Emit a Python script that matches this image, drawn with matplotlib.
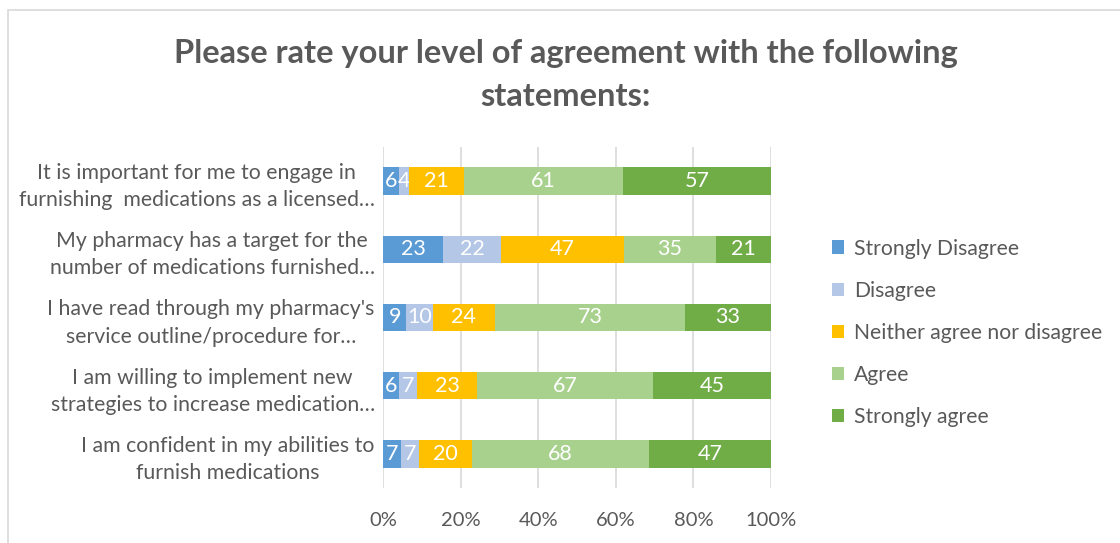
import matplotlib.pyplot as plt
import numpy as np
from matplotlib.patches import Rectangle

plt.rcParams['font.family'] = ['Lato', 'DejaVu Sans']

statements = [
    "It is important for me to engage in\nfurnishing  medications as a licensed\u2026",
    "My pharmacy has a target for the\nnumber of medications furnished\u2026",
    "I have read through my pharmacy's\nservice outline/procedure for\u2026",
    "I am willing to implement new\nstrategies to increase medication\u2026",
    "I am confident in my abilities to\nfurnish medications",
]
levels = ["Strongly Disagree", "Disagree", "Neither agree nor disagree",
          "Agree", "Strongly agree"]
strongly_disagree = [6, 23, 9, 6, 7]
disagree = [4, 22, 10, 7, 7]
neither = [21, 47, 24, 23, 20]
agree = [61, 35, 73, 67, 68]
strongly_agree = [57, 21, 33, 45, 47]
colors = ['#5B9BD5', '#B4C7E7', '#FFC000', '#A9D18E', '#70AD47']

counts = np.array([strongly_disagree, disagree, neither, agree, strongly_agree], dtype=float)
shares = counts / counts.sum(axis=0)

fig = plt.figure(figsize=(11.2, 5.43), dpi=100)
ax = fig.add_axes([0.342, 0.1013, 0.3464, 0.628])
fig.patches.append(Rectangle((0.007, -0.01), 1.0, 0.992, transform=fig.transFigure,
                             fill=False, edgecolor='#D9D9D9', linewidth=1.2))

y = np.arange(len(statements))
left = np.zeros(len(statements))
for i, name in enumerate(levels):
    bars = ax.barh(y, shares[i], left=left, height=0.4, color=colors[i], label=name, zorder=3)
    ax.bar_label(bars, labels=[str(int(v)) for v in counts[i]], label_type='center',
                 color='white', fontsize=15.5)
    left += shares[i]

ax.set_ylim(len(statements) - 0.5, -0.5)
ax.set_xlim(0, 1)
ax.set_xticks(np.linspace(0, 1, 6))
ax.set_xticklabels(['0%', '20%', '40%', '60%', '80%', '100%'])
ax.set_yticks(y)
ax.set_yticklabels(statements, multialignment='center', linespacing=1.45)
ax.tick_params(axis='x', length=0, pad=17, labelsize=14.5, labelcolor='#595959')
ax.tick_params(axis='y', length=0, pad=6, labelsize=15.3, labelcolor='#595959')
ax.grid(axis='x', color='#D9D9D9', linewidth=1.2, zorder=0)
for s in ax.spines.values():
    s.set_visible(False)

fig.text(0.505, 0.862, "Please rate your level of agreement with the following\nstatements:",
         ha='center', va='center', fontsize=23.5, fontweight='bold', color='#595959',
         linespacing=1.55)

ax.legend(loc='center left', bbox_to_anchor=(1.107, 0.455), frameon=False,
          fontsize=15.2, labelcolor='#595959', handlelength=0.6, handleheight=0.6,
          handletextpad=0.45, labelspacing=1.05)

fig.savefig('out.png', dpi=100)
